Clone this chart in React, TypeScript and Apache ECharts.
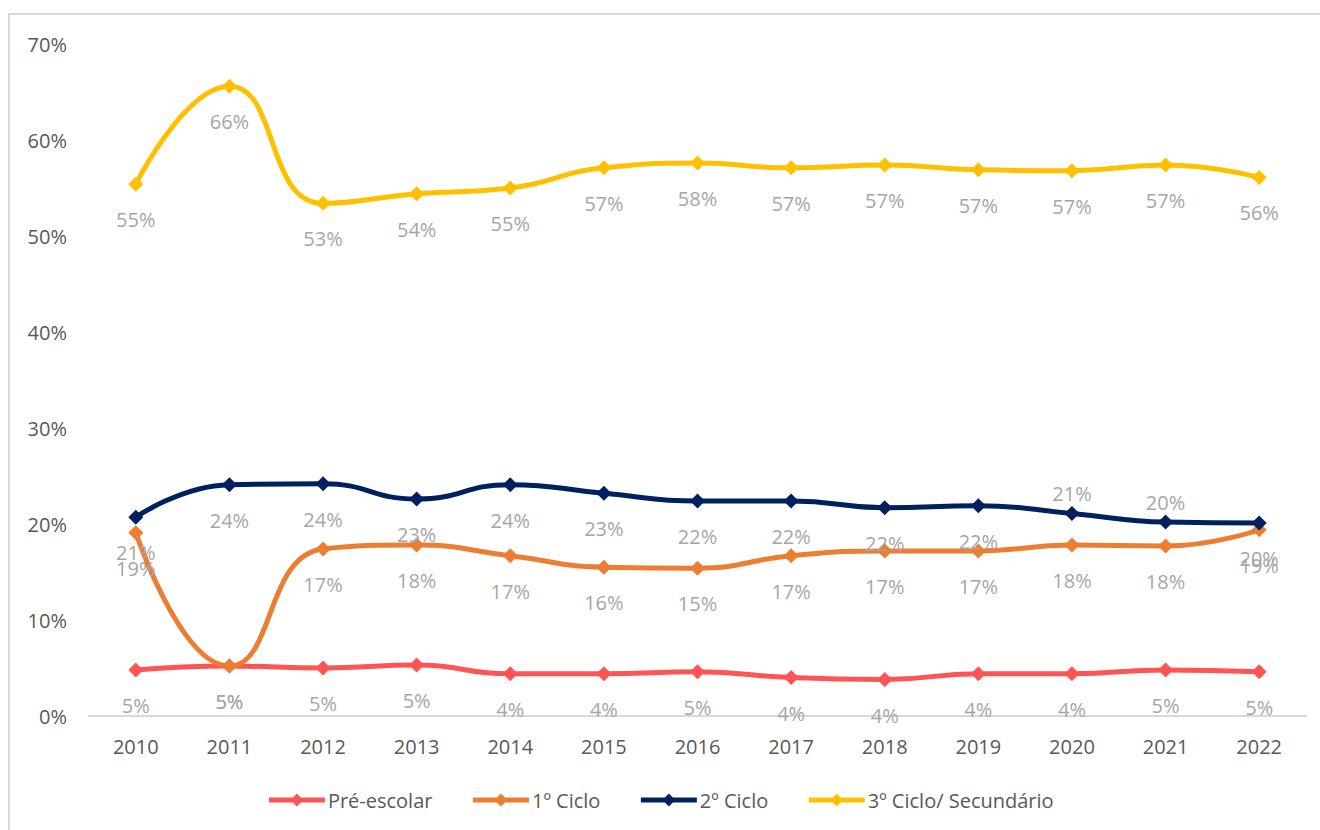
import React, { useEffect, useRef } from "react";
import * as echarts from "echarts";

const years = ["2010","2011","2012","2013","2014","2015","2016","2017","2018","2019","2020","2021","2022"];
const preEscolar = [4.8, 5.2, 5.0, 5.3, 4.4, 4.4, 4.6, 4.0, 3.8, 4.4, 4.4, 4.8, 4.6];
const ciclo1 = [19.1, 5.2, 17.4, 17.8, 16.7, 15.5, 15.4, 16.7, 17.2, 17.2, 17.8, 17.7, 19.4];
const ciclo2 = [20.7, 24.1, 24.2, 22.6, 24.1, 23.2, 22.4, 22.4, 21.7, 21.9, 21.1, 20.2, 20.1];
const ciclo3 = [55.4, 65.6, 53.4, 54.4, 55.0, 57.1, 57.6, 57.1, 57.4, 56.9, 56.8, 57.4, 56.1];
const seriesNames = ["Pré-escolar", "1º Ciclo", "2º Ciclo", "3º Ciclo/ Secundário"];
const seriesColors = ["#FF5454", "#ED7D31", "#002060", "#FFC000"];
// navy labels in 2020 and 2021 sit above the point
const ciclo2Above = [false, false, false, false, false, false, false, false, false, false, true, true, false];

const FONT = "'Open Sans', 'Noto Sans', sans-serif";

export default function App() {
  const ref = useRef<HTMLDivElement>(null);
  useEffect(() => {
    if (!ref.current) return;
    document.body.style.margin = "0";
    document.body.style.overflow = "hidden";
    const chart = echarts.init(ref.current, null, { renderer: "svg" });
    const labelStyle = {
      show: true,
      position: "bottom" as const,
      distance: 18,
      color: "#A6A6A6",
      fontSize: 20,
      fontFamily: FONT,
      formatter: (p: any) => Math.round(p.value) + "%",
    };
    const allData = [preEscolar, ciclo1, ciclo2, ciclo3];
    const series = allData.map((arr, i) => ({
      name: seriesNames[i],
      type: "line",
      smooth: 0.5,
      symbol: "diamond",
      symbolSize: 15,
      lineStyle: { width: 5, color: seriesColors[i] },
      itemStyle: { color: seriesColors[i] },
      label: labelStyle,
      z: i === 2 ? 4 : 3,
      data: arr.map((v, j) => {
        if (i === 2 && ciclo2Above[j]) {
          return { value: v, label: { position: "top", distance: 2 } };
        }
        return v;
      }),
    }));
    chart.setOption({
      animation: false,
      backgroundColor: "#ffffff",
      textStyle: { fontFamily: FONT },
      grid: { left: 89, right: 14, top: 44, bottom: 114, containLabel: false },
      legend: {
        top: 785,
        left: "center",
        itemWidth: 56,
        itemHeight: 16,
        itemGap: 38,
        lineStyle: { width: 5 },
        textStyle: { color: "#595959", fontSize: 20, fontFamily: FONT, padding: [0, 0, 0, -2] },
        data: seriesNames,
      },
      xAxis: {
        type: "category",
        data: years,
        boundaryGap: true,
        axisLine: { lineStyle: { color: "#D9D9D9", width: 2 } },
        axisTick: { show: false },
        axisLabel: { color: "#595959", fontSize: 20, fontFamily: FONT, margin: 20 },
      },
      yAxis: {
        type: "value",
        min: 0,
        max: 70,
        interval: 10,
        axisLine: { show: false },
        axisTick: { show: false },
        splitLine: { show: false },
        axisLabel: { color: "#595959", fontSize: 20, fontFamily: FONT, margin: 22, formatter: "{value}%" },
      },
      graphic: [
        { type: "line", shape: { x1: 8, y1: 14, x2: 1320, y2: 14 }, style: { stroke: "#D9D9D9", lineWidth: 2 } },
        { type: "line", shape: { x1: 9, y1: 14, x2: 9, y2: 830 }, style: { stroke: "#D9D9D9", lineWidth: 2 } },
      ],
      series,
    });
    return () => chart.dispose();
  }, []);
  return <div ref={ref} style={{ width: 1320, height: 830 }} />;
}
